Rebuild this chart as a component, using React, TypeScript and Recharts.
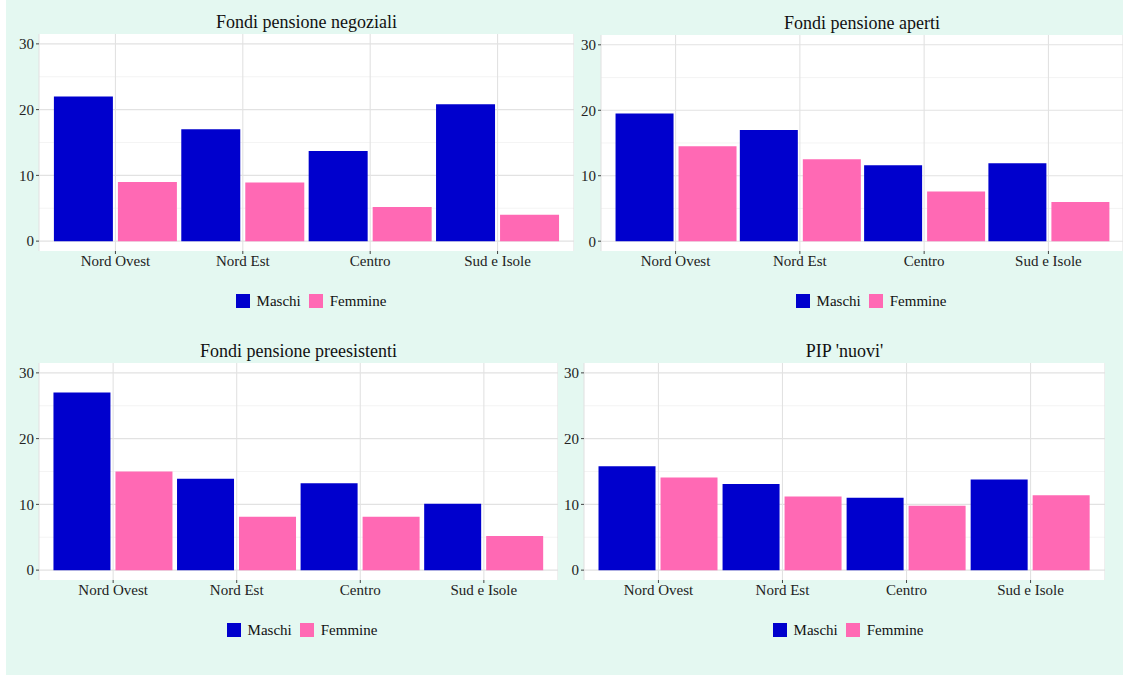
import { BarChart, Bar, XAxis, YAxis, CartesianGrid } from 'recharts';

// Regional shares (%) by gender, four pension fund families
const regions = ['Nord Ovest', 'Nord Est', 'Centro', 'Sud e Isole'];

const negozialiMaschi = [22.0, 17.0, 13.7, 20.8];
const negozialiFemmine = [9.0, 8.9, 5.2, 4.0];

const apertiMaschi = [19.5, 17.0, 11.6, 11.9];
const apertiFemmine = [14.5, 12.5, 7.6, 6.0];

const preesistentiMaschi = [27.0, 13.9, 13.2, 10.1];
const preesistentiFemmine = [15.0, 8.1, 8.1, 5.2];

const pipMaschi = [15.8, 13.1, 11.0, 13.8];
const pipFemmine = [14.1, 11.2, 9.8, 11.4];

const yTicks = [0, 10, 20, 30];
const yMinor = [5, 15, 25];

const MASCHI = '#0000CD';
const FEMMINE = '#FF69B4';
const FONT = '"Liberation Serif", "DejaVu Serif", serif';

type PanelProps = {
  title: string;
  maschi: number[];
  femmine: number[];
  plotLeft: number;
  plotTop: number;
  plotW: number;
  plotH: number;
  legendX: number;
  legendY: number;
};

const Y_AXIS_W = 36;
const X_AXIS_H = 30;

function Panel({ title, maschi, femmine, plotLeft, plotTop, plotW, plotH, legendX, legendY }: PanelProps) {
  const rows = regions.map((region, i) => ({ region, Maschi: maschi[i], Femmine: femmine[i] }));
  // discrete scale expanded by 0.6 of a category on each side
  const unit = plotW / 4.2;
  const pad = unit * 0.1;

  return (
    <>
      <div
        style={{
          position: 'absolute',
          left: plotLeft,
          width: plotW,
          top: plotTop - 22,
          textAlign: 'center',
          fontFamily: FONT,
          fontSize: 18,
          lineHeight: '20px',
          color: '#111',
        }}
      >
        {title}
      </div>

      <div style={{ position: 'absolute', left: plotLeft - Y_AXIS_W, top: plotTop }}>
        <BarChart
          width={plotW + Y_AXIS_W}
          height={plotH + X_AXIS_H}
          data={rows}
          margin={{ top: 0, right: 0, bottom: 0, left: 0 }}
          barCategoryGap="1.7%"
          barGap={5}
        >
          <CartesianGrid
            fill="#ffffff"
            stroke="#ececec"
            strokeWidth={0.6}
            vertical={false}
            horizontalValues={yMinor}
          />
          <CartesianGrid stroke="#e2e2e2" strokeWidth={1.1} horizontalValues={yTicks} />
          <XAxis
            dataKey="region"
            padding={{ left: pad, right: pad }}
            axisLine={false}
            tickLine={{ stroke: '#444' }}
            tickSize={3}
            tickMargin={1}
            height={X_AXIS_H}
            interval={0}
            tick={{ fontFamily: FONT, fontSize: 15, fill: '#222' }}
          />
          <YAxis
            type="number"
            domain={[-1.5, 31.5]}
            ticks={yTicks}
            allowDataOverflow
            axisLine={false}
            tickLine={{ stroke: '#444' }}
            tickSize={3}
            tickMargin={2}
            width={Y_AXIS_W}
            tick={{ fontFamily: FONT, fontSize: 15, fill: '#222' }}
          />
          <Bar dataKey="Maschi" fill={MASCHI} isAnimationActive={false} />
          <Bar dataKey="Femmine" fill={FEMMINE} isAnimationActive={false} />
        </BarChart>
      </div>

      <div
        style={{
          position: 'absolute',
          left: legendX - 150,
          width: 300,
          top: legendY - 9,
          height: 18,
          display: 'flex',
          justifyContent: 'center',
          alignItems: 'center',
          fontFamily: FONT,
          fontSize: 15,
          color: '#111',
        }}
      >
        <span style={{ width: 14, height: 14, background: MASCHI, marginRight: 7 }} />
        <span style={{ marginRight: 8 }}>Maschi</span>
        <span style={{ width: 14, height: 14, background: FEMMINE, marginRight: 7 }} />
        <span>Femmine</span>
      </div>
    </>
  );
}

export default function App() {
  return (
    <div style={{ position: 'absolute', left: 0, top: 0, width: 1123, height: 675, background: '#ffffff', overflow: 'hidden' }}>
      <div style={{ position: 'absolute', left: 6, top: 0, width: 1117, height: 675, background: '#e4f8f1' }} />
      <Panel
        title="Fondi pensione negoziali"
        maschi={negozialiMaschi}
        femmine={negozialiFemmine}
        plotLeft={39}
        plotTop={34}
        plotW={535}
        plotH={217}
        legendX={311}
        legendY={301}
      />
      <Panel
        title="Fondi pensione aperti"
        maschi={apertiMaschi}
        femmine={apertiFemmine}
        plotLeft={601}
        plotTop={35}
        plotW={522}
        plotH={216}
        legendX={871}
        legendY={301}
      />
      <Panel
        title="Fondi pensione preesistenti"
        maschi={preesistentiMaschi}
        femmine={preesistentiFemmine}
        plotLeft={39}
        plotTop={363}
        plotW={519}
        plotH={217}
        legendX={302}
        legendY={630}
      />
      <Panel
        title="PIP 'nuovi'"
        maschi={pipMaschi}
        femmine={pipFemmine}
        plotLeft={584}
        plotTop={363}
        plotW={521}
        plotH={217}
        legendX={848}
        legendY={630}
      />
    </div>
  );
}
